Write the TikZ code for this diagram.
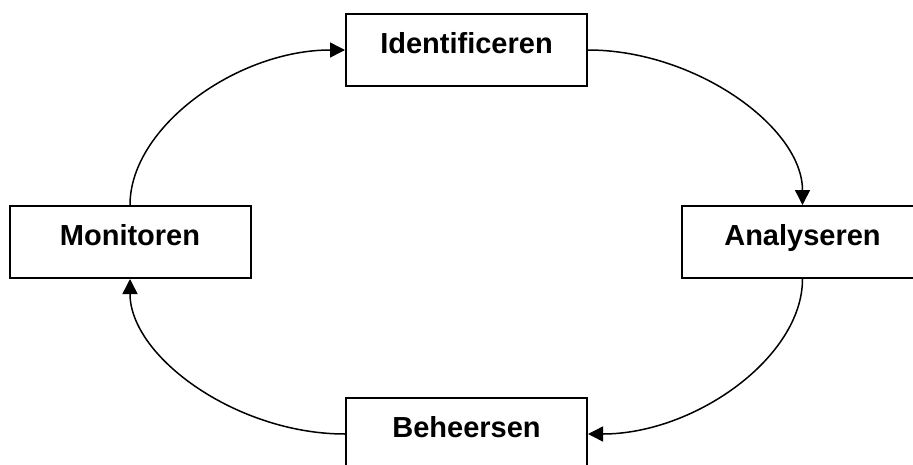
\documentclass[tikz,border=0pt]{standalone}
\usepackage{fontspec}
\setmainfont{Liberation Sans}
\usetikzlibrary{arrows.meta}
\begin{document}
\begin{tikzpicture}[x=1pt,y=-1pt,
  stagebox/.style={draw=black, line width=2pt, fill=white,
    minimum width=241pt, minimum height=72pt, inner sep=0pt,
    text height=21pt, text depth=15pt,
    font=\fontsize{29}{35}\selectfont\bfseries},
  flow/.style={line width=1.5pt, -{Triangle[length=15pt,width=15pt]}}]
\useasboundingbox[fill=white] (0,0) rectangle (913,464);
\node[stagebox] (id) at (466.5,50) {Identificeren};
\node[stagebox] (an) at (802.5,242) {Analyseren};
\node[stagebox] (be) at (466.5,434) {Beheersen};
\node[stagebox] (mo) at (130,242) {Monitoren};
\draw[flow] (id.east) .. controls +(107,0) and +(0,-78) .. (an.north);
\draw[flow] (an.south) .. controls +(0,78) and +(107,0) .. (be.east);
\draw[flow] (be.west) .. controls +(-108,0) and +(0,78) .. (mo.south);
\draw[flow] (mo.north) .. controls +(0,-78) and +(-108,0) .. (id.west);
\end{tikzpicture}
\end{document}
